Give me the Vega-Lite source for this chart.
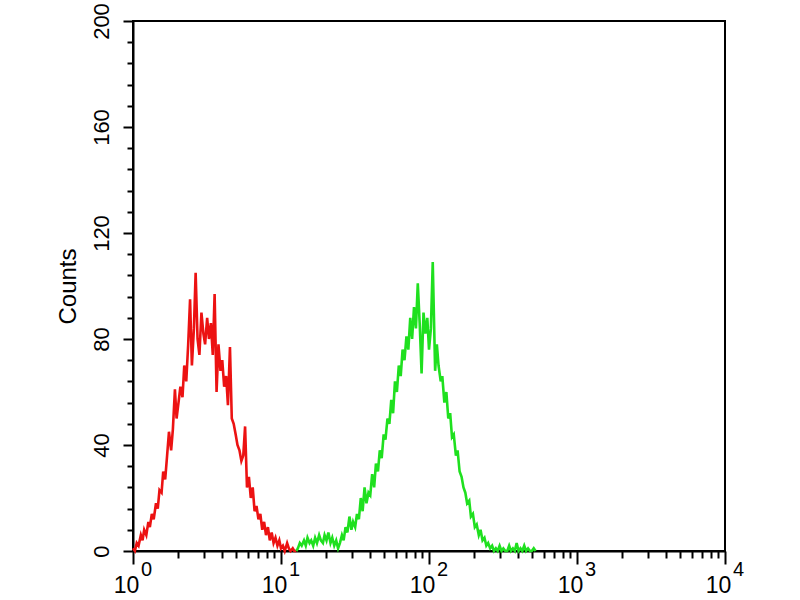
{
  "$schema": "https://vega.github.io/schema/vega-lite/v6.json",
  "width": 592,
  "height": 530,
  "autosize": {"type": "none"},
  "padding": {"left": 133, "top": 21, "right": 75, "bottom": 49},
  "background": "white",
  "config": {
    "font": "Liberation Sans",
    "view": {"stroke": "black", "strokeWidth": 2},
    "axis": {"domainColor": "black", "domainWidth": 2, "tickColor": "black", "tickWidth": 2, "labelColor": "black", "titleColor": "black", "grid": false}
  },
  "data": {
    "values": [
      {"s": "control", "v": 1.00, "c": 1}, {"s": "control", "v": 1.03, "c": 0}, {"s": "control", "v": 1.06, "c": 3}, {"s": "control", "v": 1.09, "c": 2},
      {"s": "control", "v": 1.13, "c": 6}, {"s": "control", "v": 1.16, "c": 4}, {"s": "control", "v": 1.19, "c": 8}, {"s": "control", "v": 1.23, "c": 6},
      {"s": "control", "v": 1.27, "c": 11}, {"s": "control", "v": 1.30, "c": 9}, {"s": "control", "v": 1.34, "c": 14}, {"s": "control", "v": 1.38, "c": 12},
      {"s": "control", "v": 1.43, "c": 18}, {"s": "control", "v": 1.47, "c": 16}, {"s": "control", "v": 1.51, "c": 23}, {"s": "control", "v": 1.56, "c": 22},
      {"s": "control", "v": 1.60, "c": 30}, {"s": "control", "v": 1.65, "c": 27}, {"s": "control", "v": 1.70, "c": 36}, {"s": "control", "v": 1.75, "c": 45},
      {"s": "control", "v": 1.81, "c": 38}, {"s": "control", "v": 1.86, "c": 46}, {"s": "control", "v": 1.92, "c": 61}, {"s": "control", "v": 1.97, "c": 50},
      {"s": "control", "v": 2.03, "c": 56}, {"s": "control", "v": 2.09, "c": 62}, {"s": "control", "v": 2.16, "c": 58}, {"s": "control", "v": 2.22, "c": 70},
      {"s": "control", "v": 2.29, "c": 64}, {"s": "control", "v": 2.36, "c": 78}, {"s": "control", "v": 2.43, "c": 95}, {"s": "control", "v": 2.50, "c": 70},
      {"s": "control", "v": 2.58, "c": 84}, {"s": "control", "v": 2.65, "c": 105}, {"s": "control", "v": 2.73, "c": 80}, {"s": "control", "v": 2.81, "c": 74},
      {"s": "control", "v": 2.90, "c": 90}, {"s": "control", "v": 2.99, "c": 82}, {"s": "control", "v": 3.07, "c": 78}, {"s": "control", "v": 3.17, "c": 88},
      {"s": "control", "v": 3.26, "c": 80}, {"s": "control", "v": 3.36, "c": 86}, {"s": "control", "v": 3.46, "c": 74}, {"s": "control", "v": 3.56, "c": 97},
      {"s": "control", "v": 3.67, "c": 60}, {"s": "control", "v": 3.78, "c": 78}, {"s": "control", "v": 3.90, "c": 68}, {"s": "control", "v": 4.01, "c": 72},
      {"s": "control", "v": 4.13, "c": 62}, {"s": "control", "v": 4.26, "c": 66}, {"s": "control", "v": 4.38, "c": 55}, {"s": "control", "v": 4.52, "c": 77},
      {"s": "control", "v": 4.65, "c": 50}, {"s": "control", "v": 4.79, "c": 48}, {"s": "control", "v": 4.94, "c": 44}, {"s": "control", "v": 5.08, "c": 40},
      {"s": "control", "v": 5.24, "c": 38}, {"s": "control", "v": 5.40, "c": 34}, {"s": "control", "v": 5.56, "c": 36}, {"s": "control", "v": 5.72, "c": 47},
      {"s": "control", "v": 5.89, "c": 24}, {"s": "control", "v": 6.07, "c": 28}, {"s": "control", "v": 6.25, "c": 20}, {"s": "control", "v": 6.44, "c": 24},
      {"s": "control", "v": 6.63, "c": 15}, {"s": "control", "v": 6.83, "c": 17}, {"s": "control", "v": 7.04, "c": 12}, {"s": "control", "v": 7.25, "c": 14},
      {"s": "control", "v": 7.47, "c": 8}, {"s": "control", "v": 7.69, "c": 11}, {"s": "control", "v": 7.92, "c": 6}, {"s": "control", "v": 8.16, "c": 9},
      {"s": "control", "v": 8.40, "c": 4}, {"s": "control", "v": 8.65, "c": 7}, {"s": "control", "v": 8.91, "c": 3}, {"s": "control", "v": 9.18, "c": 5},
      {"s": "control", "v": 9.46, "c": 2}, {"s": "control", "v": 9.74, "c": 4}, {"s": "control", "v": 10.0, "c": 1}, {"s": "control", "v": 10.3, "c": 2},
      {"s": "control", "v": 10.6, "c": 0}, {"s": "control", "v": 11.0, "c": 3}, {"s": "control", "v": 11.3, "c": 1}, {"s": "control", "v": 11.6, "c": 0},
      {"s": "control", "v": 12.0, "c": 1}, {"s": "control", "v": 12.3, "c": 0}, {"s": "control", "v": 12.7, "c": 0},

      {"s": "sample", "v": 12.7, "c": 0}, {"s": "sample", "v": 13.0, "c": 1}, {"s": "sample", "v": 13.4, "c": 3}, {"s": "sample", "v": 13.8, "c": 2},
      {"s": "sample", "v": 14.3, "c": 4}, {"s": "sample", "v": 14.7, "c": 2}, {"s": "sample", "v": 15.1, "c": 5}, {"s": "sample", "v": 15.6, "c": 3},
      {"s": "sample", "v": 16.0, "c": 4}, {"s": "sample", "v": 16.5, "c": 2}, {"s": "sample", "v": 17.0, "c": 5}, {"s": "sample", "v": 17.5, "c": 3},
      {"s": "sample", "v": 18.1, "c": 6}, {"s": "sample", "v": 18.6, "c": 4}, {"s": "sample", "v": 19.2, "c": 3}, {"s": "sample", "v": 19.7, "c": 6},
      {"s": "sample", "v": 20.3, "c": 4}, {"s": "sample", "v": 20.9, "c": 7}, {"s": "sample", "v": 21.6, "c": 3}, {"s": "sample", "v": 22.2, "c": 5},
      {"s": "sample", "v": 22.9, "c": 2}, {"s": "sample", "v": 23.6, "c": 4}, {"s": "sample", "v": 24.3, "c": 1}, {"s": "sample", "v": 25.0, "c": 3},
      {"s": "sample", "v": 25.8, "c": 6}, {"s": "sample", "v": 26.5, "c": 4}, {"s": "sample", "v": 27.3, "c": 9}, {"s": "sample", "v": 28.1, "c": 7},
      {"s": "sample", "v": 29.0, "c": 13}, {"s": "sample", "v": 29.9, "c": 8}, {"s": "sample", "v": 30.7, "c": 11}, {"s": "sample", "v": 31.7, "c": 9},
      {"s": "sample", "v": 32.6, "c": 14}, {"s": "sample", "v": 33.6, "c": 12}, {"s": "sample", "v": 34.6, "c": 20}, {"s": "sample", "v": 35.6, "c": 15},
      {"s": "sample", "v": 36.7, "c": 24}, {"s": "sample", "v": 37.8, "c": 18}, {"s": "sample", "v": 39.0, "c": 22}, {"s": "sample", "v": 40.1, "c": 21},
      {"s": "sample", "v": 41.3, "c": 29}, {"s": "sample", "v": 42.6, "c": 24}, {"s": "sample", "v": 43.8, "c": 33}, {"s": "sample", "v": 45.2, "c": 30},
      {"s": "sample", "v": 46.5, "c": 38}, {"s": "sample", "v": 47.9, "c": 35}, {"s": "sample", "v": 49.4, "c": 44}, {"s": "sample", "v": 50.8, "c": 42},
      {"s": "sample", "v": 52.4, "c": 50}, {"s": "sample", "v": 54.0, "c": 48}, {"s": "sample", "v": 55.6, "c": 57}, {"s": "sample", "v": 57.2, "c": 52},
      {"s": "sample", "v": 58.9, "c": 64}, {"s": "sample", "v": 60.7, "c": 60}, {"s": "sample", "v": 62.5, "c": 70}, {"s": "sample", "v": 64.4, "c": 66},
      {"s": "sample", "v": 66.3, "c": 76}, {"s": "sample", "v": 68.3, "c": 72}, {"s": "sample", "v": 70.4, "c": 81}, {"s": "sample", "v": 72.5, "c": 76},
      {"s": "sample", "v": 74.7, "c": 88}, {"s": "sample", "v": 76.9, "c": 80}, {"s": "sample", "v": 79.2, "c": 92}, {"s": "sample", "v": 81.6, "c": 84},
      {"s": "sample", "v": 84.0, "c": 101}, {"s": "sample", "v": 86.5, "c": 86}, {"s": "sample", "v": 89.1, "c": 67}, {"s": "sample", "v": 91.8, "c": 90},
      {"s": "sample", "v": 94.6, "c": 82}, {"s": "sample", "v": 97.4, "c": 88}, {"s": "sample", "v": 100, "c": 76}, {"s": "sample", "v": 103, "c": 84},
      {"s": "sample", "v": 106, "c": 109}, {"s": "sample", "v": 110, "c": 68}, {"s": "sample", "v": 113, "c": 78}, {"s": "sample", "v": 116, "c": 70},
      {"s": "sample", "v": 120, "c": 64}, {"s": "sample", "v": 123, "c": 66}, {"s": "sample", "v": 127, "c": 56}, {"s": "sample", "v": 131, "c": 60},
      {"s": "sample", "v": 135, "c": 50}, {"s": "sample", "v": 139, "c": 52}, {"s": "sample", "v": 143, "c": 43}, {"s": "sample", "v": 147, "c": 44},
      {"s": "sample", "v": 152, "c": 36}, {"s": "sample", "v": 156, "c": 38}, {"s": "sample", "v": 161, "c": 30}, {"s": "sample", "v": 166, "c": 28},
      {"s": "sample", "v": 171, "c": 24}, {"s": "sample", "v": 176, "c": 22}, {"s": "sample", "v": 181, "c": 18}, {"s": "sample", "v": 187, "c": 19},
      {"s": "sample", "v": 192, "c": 13}, {"s": "sample", "v": 198, "c": 14}, {"s": "sample", "v": 204, "c": 9}, {"s": "sample", "v": 210, "c": 10},
      {"s": "sample", "v": 217, "c": 6}, {"s": "sample", "v": 223, "c": 8}, {"s": "sample", "v": 230, "c": 4}, {"s": "sample", "v": 237, "c": 5},
      {"s": "sample", "v": 244, "c": 2}, {"s": "sample", "v": 251, "c": 3}, {"s": "sample", "v": 259, "c": 1}, {"s": "sample", "v": 267, "c": 2},
      {"s": "sample", "v": 275, "c": 0}, {"s": "sample", "v": 283, "c": 1}, {"s": "sample", "v": 291, "c": 0}, {"s": "sample", "v": 300, "c": 2},
      {"s": "sample", "v": 309, "c": 0}, {"s": "sample", "v": 318, "c": 1}, {"s": "sample", "v": 328, "c": 0}, {"s": "sample", "v": 338, "c": 0},
      {"s": "sample", "v": 348, "c": 2}, {"s": "sample", "v": 358, "c": 0}, {"s": "sample", "v": 369, "c": 1}, {"s": "sample", "v": 380, "c": 0},
      {"s": "sample", "v": 391, "c": 3}, {"s": "sample", "v": 403, "c": 0}, {"s": "sample", "v": 415, "c": 1}, {"s": "sample", "v": 427, "c": 0},
      {"s": "sample", "v": 440, "c": 2}, {"s": "sample", "v": 453, "c": 0}, {"s": "sample", "v": 467, "c": 1}, {"s": "sample", "v": 481, "c": 0},
      {"s": "sample", "v": 495, "c": 0}, {"s": "sample", "v": 510, "c": 1}, {"s": "sample", "v": 525, "c": 0}
    ]
  },
  "encoding": {
    "y": {
      "field": "c",
      "type": "quantitative",
      "scale": {"domain": [0, 200], "nice": false},
      "axis": {
        "title": "Counts",
        "values": [0, 8, 16, 24, 32, 40, 48, 56, 64, 72, 80, 88, 96, 104, 112, 120, 128, 136, 144, 152, 160, 168, 176, 184, 192, 200],
        "labelExpr": "datum.value % 40 === 0 ? datum.label : ''",
        "tickSize": {"condition": {"test": "datum.value % 40 === 0", "value": 10}, "value": 6},
        "labelAngle": 270,
        "labelFontSize": 22,
        "labelPadding": 10,
        "labelOverlap": false,
        "labelFlush": false,
        "labelBound": false,
        "titleFontSize": 24,
        "titleFontWeight": "normal",
        "titlePadding": 10
      }
    }
  },
  "resolve": {"axis": {"x": "independent"}},
  "layer": [
    {
      "transform": [{"filter": "datum.s === 'control'"}],
      "mark": {"type": "line", "strokeWidth": 2.6, "interpolate": "linear", "color": "#ec1212"},
      "encoding": {
        "x": {
          "field": "v",
          "type": "quantitative",
          "scale": {"type": "log", "domain": [1, 10000], "nice": false},
          "axis": {
            "orient": "bottom",
            "title": null,
            "values": [1, 2, 3, 4, 5, 6, 7, 8, 9, 10, 20, 30, 40, 50, 60, 70, 80, 90, 100, 200, 300, 400, 500, 600, 700, 800, 900, 1000, 2000, 3000, 4000, 5000, 6000, 7000, 8000, 9000, 10000],
            "labelExpr": "indexof([1,10,100,1000,10000], datum.value) >= 0 ? '10' : ''",
            "tickSize": {"condition": {"test": "indexof([1,10,100,1000,10000], datum.value) >= 0", "value": 13}, "value": 7},
            "labelFontSize": 23,
            "labelPadding": 10,
            "labelOffset": -7,
            "labelOverlap": false,
            "labelFlush": false,
            "labelBound": false
          }
        }
      }
    },
    {
      "transform": [{"filter": "datum.s === 'sample'"}],
      "mark": {"type": "line", "strokeWidth": 2.6, "interpolate": "linear", "color": "#1fe01f"},
      "encoding": {
        "x": {
          "field": "v",
          "type": "quantitative",
          "scale": {"type": "log", "domain": [1, 10000], "nice": false},
          "axis": {
            "orient": "bottom",
            "title": null,
            "domain": false,
            "ticks": false,
            "tickSize": 0,
            "values": [1, 10, 100, 1000, 10000],
            "labelExpr": "format(log(datum.value) / LN10, '.0f')",
            "labelFontSize": 20,
            "labelPadding": 8,
            "labelOffset": 13,
            "labelOverlap": false,
            "labelFlush": false,
            "labelBound": false
          }
        }
      }
    }
  ]
}
